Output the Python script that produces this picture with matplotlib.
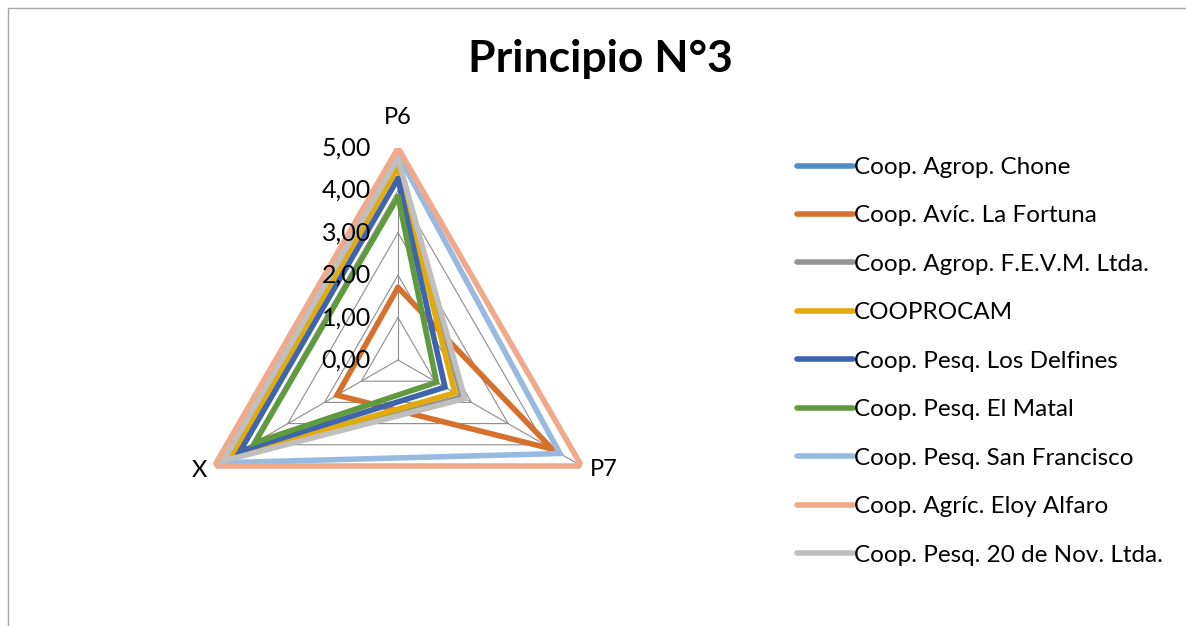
import numpy as np
import matplotlib
matplotlib.use("Agg")
import matplotlib.pyplot as plt
from matplotlib.patches import Rectangle
from matplotlib.transforms import offset_copy

plt.rcParams['font.family'] = ['Lato', 'DejaVu Sans']

# data
categories = ['P6', 'P7', 'X']
series_names = ['Coop. Agrop. Chone', 'Coop. Avíc. La Fortuna', 'Coop. Agrop. F.E.V.M. Ltda.',
                'COOPROCAM', 'Coop. Pesq. Los Delfines', 'Coop. Pesq. El Matal',
                'Coop. Pesq. San Francisco', 'Coop. Agríc. Eloy Alfaro', 'Coop. Pesq. 20 de Nov. Ltda.']
chone = [4.70, 1.75, 4.72]
fortuna = [1.71, 4.20, 1.66]
fevm = [4.70, 1.75, 4.72]
cooprocam = [4.55, 1.55, 4.55]
delfines = [4.28, 1.28, 4.30]
matal = [3.85, 1.05, 3.90]
san_francisco = [4.85, 4.41, 4.85]
eloy_alfaro = [5.00, 5.00, 5.00]
nov20 = [4.76, 1.82, 4.76]
all_values = [chone, fortuna, fevm, cooprocam, delfines, matal, san_francisco, eloy_alfaro, nov20]
colors = ['#4f8dc6', '#d6702d', '#949494', '#e3aa0c', '#3e64ad', '#5f9a3e',
          '#98b9e0', '#f0a98b', '#bfbfbf']
tick_values = [0, 1, 2, 3, 4, 5]
tick_labels = ['0,00', '1,00', '2,00', '3,00', '4,00', '5,00']

fig = plt.figure(figsize=(11.86, 6.26), dpi=100)
fig.patches.append(Rectangle((8 / 1186, -0.1), 1.2, 1 - 8 / 626 + 0.1, transform=fig.transFigure,
                             fill=False, edgecolor='#a6a6a6', lw=1))
fig.text(0.506, 0.905, 'Principio N°3', ha='center', va='center', fontsize=32, fontweight='bold')

ax = fig.add_axes([186 / 1186, 54 / 626, 424 / 1186, 424 / 626], projection='polar')
ax.set_theta_offset(np.pi / 2)
ax.set_theta_direction(-1)
ax.set_ylim(0, 5)
ax.grid(False)
ax.spines['polar'].set_visible(False)
ax.set_xticks([])
ax.set_yticks([])
ax.patch.set_alpha(0)

angles = np.linspace(0, 2 * np.pi, len(categories), endpoint=False)
closed = np.append(angles, angles[0])

# polygon grid
for t in tick_values[1:]:
    ax.plot(closed, [t] * len(closed), color='#8c8c8c', lw=0.8, zorder=1)
for a in angles:
    ax.plot([a, a], [0, 5], color='#8c8c8c', lw=0.8, zorder=1)

handles = []
for name, vals, c in zip(series_names, all_values, colors):
    v = np.append(vals, vals[0])
    h, = ax.plot(closed, v, color=c, lw=4.0, solid_joinstyle='miter', solid_capstyle='round',
                 label=name, zorder=2)
    handles.append(h)

# radial tick labels left of the P6 spoke
lab_tr = offset_copy(ax.transData, fig=fig, x=-27, y=0, units='dots')
for t, lab in zip(tick_values, tick_labels):
    ax.text(0, t, lab, transform=lab_tr, ha='right', va='center', fontsize=18, zorder=5)

# category labels
ax.text(0, 5, categories[0], transform=offset_copy(ax.transData, fig=fig, x=0, y=30, units='dots'),
        ha='center', va='center', fontsize=17)
ax.text(angles[1], 5, categories[1], transform=offset_copy(ax.transData, fig=fig, x=22, y=-4, units='dots'),
        ha='center', va='center', fontsize=17)
ax.text(angles[2], 5, categories[2], transform=offset_copy(ax.transData, fig=fig, x=-15, y=-4, units='dots'),
        ha='center', va='center', fontsize=17)

fig.legend(handles=handles, loc='upper left', bbox_to_anchor=(797 / 1186, 1 - 157 / 626),
           frameon=False, fontsize=17.5, handlelength=2.3, handletextpad=0.05,
           labelspacing=1.13, borderaxespad=0, borderpad=0)

fig.savefig('out.png', dpi=100)
